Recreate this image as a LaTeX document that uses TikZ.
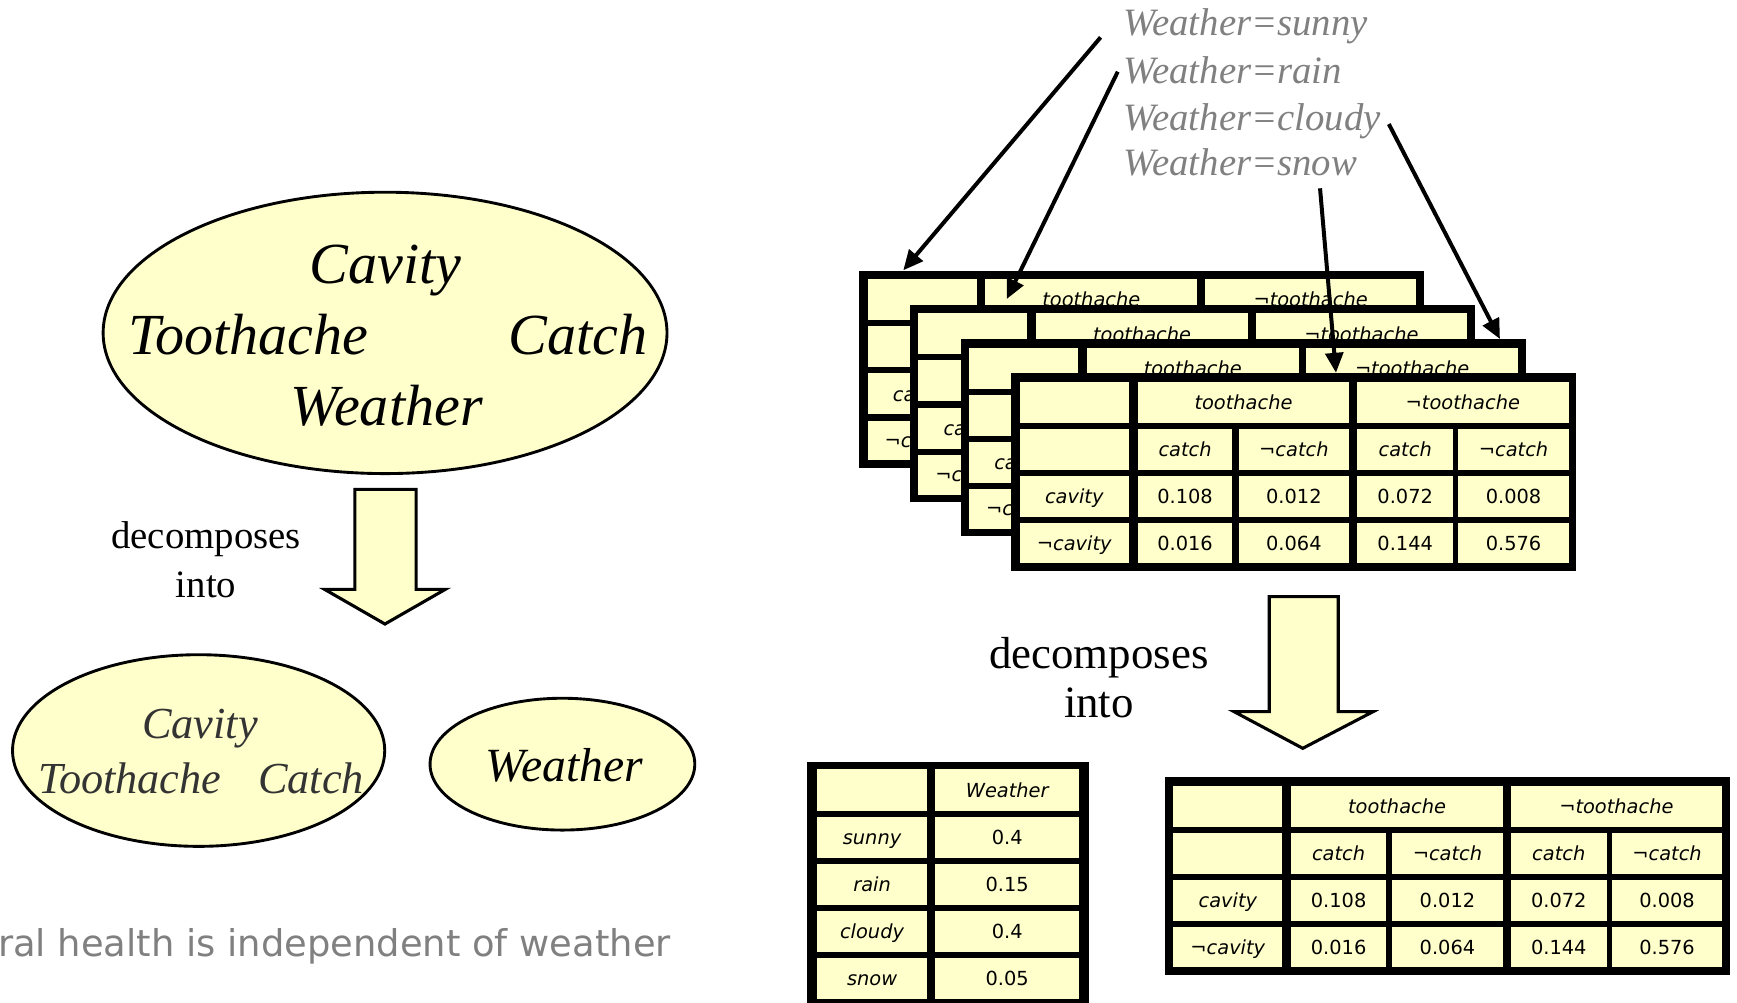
\documentclass[tikz,border=0pt]{standalone}
\usepackage{fontspec}
\setmainfont{Liberation Serif}
\newfontfamily\tabfont{DejaVu Sans}
\usetikzlibrary{shapes.geometric,arrows.meta}

\definecolor{cellyellow}{RGB}{255,255,204}
\definecolor{labelgray}{RGB}{128,128,128}

\tikzset{
  cellbox/.style={fill=cellyellow, inner sep=0pt, text height=13pt, text depth=0pt,
    font=\tabfont\fontsize{17.5}{20}\selectfont},
  setellipse/.style={ellipse, draw=black, fill=cellyellow, line width=2.6pt, inner sep=0pt},
  vartext/.style={anchor=base, inner sep=0pt, font=\fontsize{#1}{#1}\selectfont\itshape},
  plaintext/.style={anchor=base, inner sep=0pt, font=\fontsize{#1}{#1}\selectfont},
  wlabel/.style={anchor=base west, inner sep=0pt, text=labelgray,
    font=\fontsize{35}{40}\selectfont\itshape},
  blockarrow/.style={draw=black, fill=cellyellow, line width=2.8pt, line join=miter},
  pointer/.style={line width=3.6pt, -{Triangle[length=18pt,width=16pt]}},
}

% one table cell: name, centre x, centre y, width, height, text
\newcommand\tcell[6]{\node[cellbox, minimum width=#4pt, minimum height=#5pt] (#1) at (#2,#3) {#6};}

% joint table of Toothache, Catch and Cavity:
% top-left x, top-left y, name prefix, 1 = print the inner cells (0 for a table lying underneath another)
\newcommand\jointtable[4]{%
  \begin{scope}[shift={(#1,#2)}]
    \fill[black] (0,0) rectangle (510,178);
    \tcell{#3-h0}{56.75}{26}{98.5}{37}{}
    \tcell{#3-ht}{209.5}{26}{191}{37}{\itshape toothache}
    \tcell{#3-hn}{407.5}{26}{191}{37}{\itshape ¬toothache}
    \tcell{#3-s0}{56.75}{68.5}{98.5}{37}{}
    \tcell{#3-s1}{156.75}{68.5}{85.5}{37}{\ifnum#4=1 \itshape catch\fi}
    \tcell{#3-s2}{255}{68.5}{100}{37}{\ifnum#4=1 \itshape ¬catch\fi}
    \tcell{#3-s3}{355.5}{68.5}{87}{37}{\ifnum#4=1 \itshape catch\fi}
    \tcell{#3-s4}{453.25}{68.5}{99.5}{37}{\ifnum#4=1 \itshape ¬catch\fi}
    \tcell{#3-a0}{56.75}{111}{98.5}{37}{\itshape cavity}
    \tcell{#3-a1}{156.75}{111}{85.5}{37}{\ifnum#4=1 0.108\fi}
    \tcell{#3-a2}{255}{111}{100}{37}{\ifnum#4=1 0.012\fi}
    \tcell{#3-a3}{355.5}{111}{87}{37}{\ifnum#4=1 0.072\fi}
    \tcell{#3-a4}{453.25}{111}{99.5}{37}{\ifnum#4=1 0.008\fi}
    \tcell{#3-b0}{56.75}{153}{98.5}{36}{\itshape ¬cavity}
    \tcell{#3-b1}{156.75}{153}{85.5}{36}{\ifnum#4=1 0.016\fi}
    \tcell{#3-b2}{255}{153}{100}{36}{\ifnum#4=1 0.064\fi}
    \tcell{#3-b3}{355.5}{153}{87}{36}{\ifnum#4=1 0.144\fi}
    \tcell{#3-b4}{453.25}{153}{99.5}{36}{\ifnum#4=1 0.576\fi}
  \end{scope}}

\begin{document}
\begin{tikzpicture}[x=1pt,y=-1pt]
\useasboundingbox (0,0) rectangle (1568,905);
\clip (0,0) rectangle (1568,905);

% ---------- left half: the full variable set ----------
\node[setellipse, minimum width=509pt, minimum height=254pt] (allvars) at (347.6,300.5) {};
\node[vartext=52.5] (allcav) at (348,255.8) {Cavity};
\node[vartext=52.5] (alltooth) at (224,319.6) {Toothache};
\node[vartext=52.5] (allcatch) at (521.9,319.6) {Catch};
\node[vartext=52.5] (allweather) at (349.2,384.5) {Weather};

\draw[blockarrow] (320.4,441.7) -- (375.6,441.7) -- (375.6,532) -- (402,532)
  -- (347.5,563.3) -- (293,532) -- (320.4,532) -- cycle;
\node[plaintext=35] (ldec) at (186,495) {decomposes};
\node[plaintext=35] (linto) at (186,539.2) {into};

\node[setellipse, minimum width=336pt, minimum height=173pt] (dental) at (179.3,677.5) {};
\node[vartext=40, text=black!80] (dcav) at (180.5,666.5) {Cavity};
\node[vartext=40, text=black!80] (dtooth) at (117.3,716.1) {Toothache};
\node[vartext=40, text=black!80] (dcatch) at (280.7,716.1) {Catch};

\node[setellipse, minimum width=239pt, minimum height=119pt] (wset) at (507.7,689.8) {};
\node[vartext=43] (wsetlabel) at (509.4,705.6) {Weather};

\node[anchor=base west, inner sep=0pt, text=labelgray,
  font=\tabfont\fontsize{33.3}{40}\selectfont] (caption) at (-2,863.5)
  {ral health is independent of weather};

% ---------- right half: one joint table per weather value ----------
\node[wlabel] (wsunny) at (1014,31.6) {Weather=sunny};
\node[wlabel] (wrain) at (1014,75.2) {Weather=rain};
\node[wlabel] (wcloudy) at (1014,117.4) {Weather=cloudy};
\node[wlabel] (wsnow) at (1014,158) {Weather=snow};

\jointtable{775.6}{244.6}{tsunny}{0}
\jointtable{821.4}{275.4}{train}{0}
\jointtable{867.2}{306.2}{tcloudy}{0}
\jointtable{913}{337}{tsnow}{1}

\coordinate (sunnyfrom) at (993.5,33.7);
\coordinate (sunnyto) at (815.4,244);
\coordinate (rainfrom) at (1009,64.7);
\coordinate (rainto) at (908.7,270);
\coordinate (cloudyfrom) at (1253.7,112);
\coordinate (cloudyto) at (1354,306);
\coordinate (snowfrom) at (1191.6,170);
\coordinate (snowto) at (1206,336.5);
\draw[pointer] (sunnyfrom) -- (sunnyto);
\draw[pointer] (rainfrom) -- (rainto);
\draw[pointer] (cloudyfrom) -- (cloudyto);
\draw[pointer] (snowfrom) -- (snowto);

\draw[blockarrow] (1145.7,538.6) -- (1208,538.6) -- (1208,642.4) -- (1239.5,642.4)
  -- (1176,675.5) -- (1114,642.4) -- (1145.7,642.4) -- cycle;
\node[plaintext=40.5] (rdec) at (992,603) {decomposes};
\node[plaintext=40.5] (rinto) at (992,648) {into};

% weather distribution
\begin{scope}[shift={(728.2,687.6)}]
  \fill[black] (0,0) rectangle (255,221);
  \tcell{wt-h0}{59}{25.75}{100}{37.5}{}
  \tcell{wt-h1}{181}{25.75}{130}{37.5}{\itshape Weather}
  \tcell{wt-a0}{59}{68.25}{100}{37.5}{\itshape sunny}
  \tcell{wt-a1}{181}{68.25}{130}{37.5}{0.4}
  \tcell{wt-b0}{59}{110.75}{100}{37.5}{\itshape rain}
  \tcell{wt-b1}{181}{110.75}{130}{37.5}{0.15}
  \tcell{wt-c0}{59}{153.25}{100}{37.5}{\itshape cloudy}
  \tcell{wt-c1}{181}{153.25}{130}{37.5}{0.4}
  \tcell{wt-d0}{59}{195.5}{100}{37}{\itshape snow}
  \tcell{wt-d1}{181}{195.5}{130}{37}{0.05}
\end{scope}

% dental joint table
\jointtable{1051.6}{701.7}{tdental}{1}
\end{tikzpicture}
\end{document}
